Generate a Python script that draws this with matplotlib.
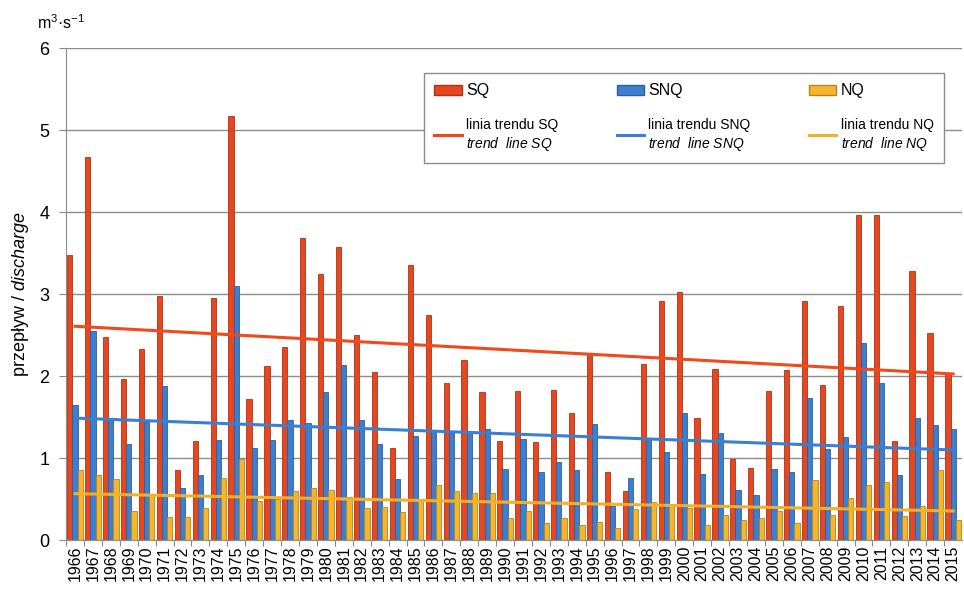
import matplotlib.pyplot as plt
import numpy as np
from matplotlib.patches import Patch
from matplotlib.lines import Line2D

plt.rcParams['font.family'] = ['Liberation Sans', 'DejaVu Sans']
plt.rcParams['mathtext.fontset'] = 'custom'
plt.rcParams['mathtext.rm'] = 'Liberation Sans'
plt.rcParams['mathtext.it'] = 'Liberation Sans:italic'

#------------------------------data------------------------------
years = list(range(1966, 2016))

sq = [3.48, 4.67, 2.48, 1.97, 2.33, 2.98, 0.85, 1.21, 2.95, 5.17,
      1.72, 2.12, 2.36, 3.68, 3.24, 3.57, 2.50, 2.05, 1.12, 3.36,
      2.74, 1.92, 2.20, 1.80, 1.21, 1.82, 1.20, 1.83, 1.55, 2.26,
      0.83, 0.60, 2.15, 2.91, 3.03, 1.49, 2.09, 0.99, 0.88, 1.82,
      2.08, 2.92, 1.89, 2.85, 3.96, 3.96, 1.21, 3.28, 2.52, 2.03]

snq = [1.65, 2.55, 1.46, 1.17, 1.44, 1.88, 0.64, 0.79, 1.22, 3.10,
       1.12, 1.22, 1.47, 1.43, 1.80, 2.14, 1.46, 1.17, 0.75, 1.27,
       1.33, 1.30, 1.32, 1.36, 0.87, 1.23, 0.83, 0.95, 0.86, 1.42,
       0.41, 0.76, 1.24, 1.08, 1.55, 0.80, 1.30, 0.61, 0.55, 0.87,
       0.83, 1.73, 1.11, 1.26, 2.40, 1.92, 0.79, 1.49, 1.40, 1.35]

nq = [0.85, 0.79, 0.74, 0.36, 0.55, 0.28, 0.28, 0.39, 0.76, 0.99,
      0.48, 0.50, 0.60, 0.64, 0.61, 0.52, 0.39, 0.40, 0.34, 0.48,
      0.67, 0.60, 0.57, 0.58, 0.27, 0.36, 0.21, 0.27, 0.19, 0.22,
      0.15, 0.38, 0.46, 0.44, 0.39, 0.19, 0.31, 0.25, 0.27, 0.36,
      0.21, 0.73, 0.31, 0.51, 0.67, 0.71, 0.29, 0.41, 0.86, 0.25]

C_SQ, E_SQ = '#e8461f', '#a8321a'
C_SNQ, E_SNQ = '#3d7fcf', '#2c5f9e'
C_NQ, E_NQ = '#f7b52c', '#b58420'

#---------------------------------plot---------------------------------
DPI = 100
fig = plt.figure(figsize=(964/DPI, 589/DPI), dpi=DPI)
ax = fig.add_axes([0.0685, 0.083, 0.9295, 0.8355])

x = np.arange(len(years))
w = 0.29
ax.bar(x - w, sq, w, color=C_SQ, edgecolor=E_SQ, linewidth=0.6, zorder=2)
ax.bar(x, snq, w, color=C_SNQ, edgecolor=E_SNQ, linewidth=0.6, zorder=2)
ax.bar(x + w, nq, w, color=C_NQ, edgecolor=E_NQ, linewidth=0.6, zorder=2)

# linear trend lines
for vals, c in [(sq, '#f04a1c'), (snq, '#3b7fd0'), (nq, '#f4b02a')]:
    k, b = np.polyfit(x, vals, 1)
    ax.plot(x, k*x + b, color=c, lw=2.2, zorder=3)

ax.set_xlim(-0.5, len(years) - 0.5)
ax.set_ylim(0, 6)
ax.set_yticks(range(0, 7))
ax.tick_params(axis='y', labelsize=13, length=5, color='#888888', pad=7)
ax.set_xticks(x - 0.5, minor=False)
ax.set_xticklabels([])
ax.set_xticks(x, minor=True)
ax.set_xticklabels([str(y) for y in years], minor=True, rotation=90, fontsize=11.5)
ax.tick_params(axis='x', which='major', length=4, color='#888888')
ax.tick_params(axis='x', which='minor', length=0, pad=4)

ax.grid(axis='y', color='#8c8c8c', lw=1.0, zorder=0)
for s in ['top', 'right']:
    ax.spines[s].set_visible(False)
ax.spines['left'].set_color('#8c8c8c')
ax.spines['bottom'].set_color('#8c8c8c')

ax.set_ylabel('przepływ / $\\it{discharge}$', fontsize=13, labelpad=6)
fig.text(0.038, 0.962, 'm$^{3}$·s$^{-1}$', fontsize=11.5, ha='left', va='center')

handles = [Patch(facecolor=C_SQ, edgecolor=E_SQ),
           Line2D([], [], color='#f04a1c', lw=2.2),
           Patch(facecolor=C_SNQ, edgecolor=E_SNQ),
           Line2D([], [], color='#3b7fd0', lw=2.2),
           Patch(facecolor=C_NQ, edgecolor=E_NQ),
           Line2D([], [], color='#f4b02a', lw=2.2)]
labels = ['SQ', 'linia trendu SQ\n$\\it{trend\\ \\ line\\ SQ}$',
          'SNQ', 'linia trendu SNQ\n$\\it{trend\\ \\ line\\ SNQ}$',
          'NQ', 'linia trendu NQ\n$\\it{trend\\ \\ line\\ NQ}$']
leg = ax.legend(handles, labels, ncol=3, loc='upper left', mode='expand',
                bbox_to_anchor=(424/964, 1 - 160/589, 520/964, 87/589),
                bbox_transform=fig.transFigure, borderaxespad=0,
                frameon=True, fancybox=False, edgecolor='#8c8c8c', framealpha=1,
                fontsize=11.5, handlelength=1.7, handleheight=0.55, handletextpad=0.3,
                labelspacing=1.2, borderpad=0.65)
leg.get_frame().set_linewidth(1.0)
for t in leg.get_texts()[1::2]:
    t.set_fontsize(10)
    t.set_linespacing(1.25)

plt.savefig('out.png', dpi=DPI)
